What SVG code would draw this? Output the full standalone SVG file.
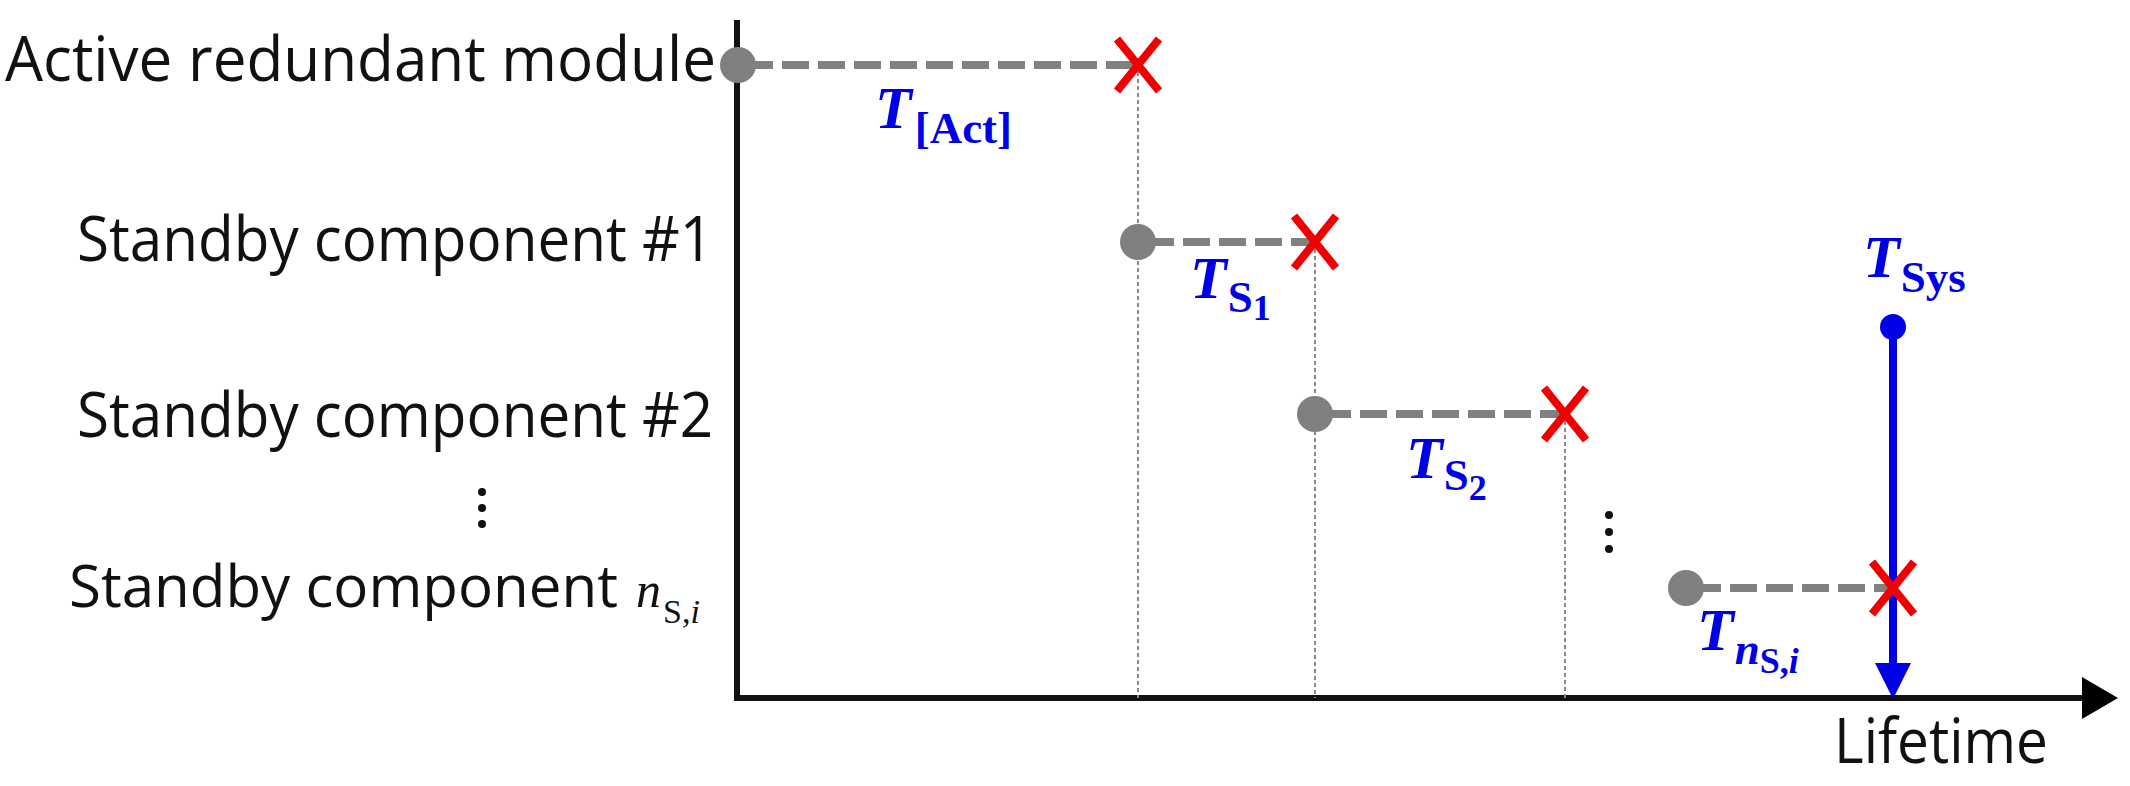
<svg xmlns="http://www.w3.org/2000/svg" width="2130" height="786" viewBox="0 0 2130 786">
<style>
.lbl{font-family:"Open Sans","Noto Sans",sans-serif;font-size:62px;fill:#111}
.m{font-family:"Liberation Serif","DejaVu Serif",serif;fill:#0000E6}
.T{font-size:60px;font-weight:bold;font-style:italic}
.sub{font-size:45px;font-weight:bold}
.sub2{font-size:36px;font-weight:bold}
.dash{stroke:#808080;stroke-width:8;stroke-dasharray:27 9;fill:none}
.guide{stroke:#8a8a8a;stroke-width:2;stroke-dasharray:4 3;fill:none}
.dot{fill:#808080}
.x{stroke:#F00000;stroke-width:8;fill:none;stroke-linecap:butt}
.ell{fill:#111}
.var{font-family:"Liberation Serif","DejaVu Serif",serif;fill:#111}
</style>
<rect width="2130" height="786" fill="#fff"/>

<g id="axes">
  <line x1="737" y1="20" x2="737" y2="698" stroke="#111" stroke-width="6"/>
  <line x1="734" y1="698" x2="2088" y2="698" stroke="#111" stroke-width="6"/>
  <polygon points="2118,698 2082,677 2082,719" fill="#000"/>
  <text class="lbl" x="1834" y="763" textLength="214" lengthAdjust="spacingAndGlyphs">Lifetime</text>
</g>

<g id="connectors">
  <line class="guide" x1="1138" y1="65" x2="1138" y2="698"/>
  <line class="guide" x1="1315" y1="242" x2="1315" y2="698"/>
  <line class="guide" x1="1565" y1="414" x2="1565" y2="698"/>
  <line class="dash" x1="746" y1="65" x2="1138" y2="65"/>
  <line class="dash" x1="1147" y1="242" x2="1315" y2="242"/>
  <line class="dash" x1="1324" y1="414" x2="1565" y2="414"/>
  <line class="dash" x1="1694" y1="588" x2="1893" y2="588"/>
  <line x1="1893" y1="327" x2="1893" y2="668" stroke="#0000E6" stroke-width="8"/>
  <polygon points="1893,699 1875,663 1911,663" fill="#0000E6"/>
</g>

<g id="active">
  <text class="lbl" x="716" y="81" text-anchor="end" textLength="711" lengthAdjust="spacingAndGlyphs">Active redundant module</text>
  <circle class="dot" cx="738" cy="65" r="18"/>
  <path class="x" d="M1117,39 L1159,91 M1159,39 L1117,91"/>
  <text class="m" x="875" y="128"><tspan class="T">T</tspan><tspan class="sub" dx="3" dy="15">[Act]</tspan></text>
</g>

<g id="standby1">
  <text class="lbl" x="713" y="261" text-anchor="end" textLength="636" lengthAdjust="spacingAndGlyphs">Standby component #1</text>
  <circle class="dot" cx="1138" cy="242" r="18"/>
  <path class="x" d="M1294,216 L1336,268 M1336,216 L1294,268"/>
  <text class="m" x="1190" y="298"><tspan class="T">T</tspan><tspan class="sub" dx="1" dy="14">S</tspan><tspan class="sub2" dy="8">1</tspan></text>
</g>

<g id="standby2">
  <text class="lbl" x="713" y="437" text-anchor="end" textLength="636" lengthAdjust="spacingAndGlyphs">Standby component #2</text>
  <circle class="dot" cx="1315" cy="414" r="18"/>
  <path class="x" d="M1544,388 L1586,440 M1586,388 L1544,440"/>
  <text class="m" x="1406" y="478"><tspan class="T">T</tspan><tspan class="sub" dx="1" dy="12">S</tspan><tspan class="sub2" dy="10">2</tspan></text>
</g>

<g id="ellipsis-left">
  <circle class="ell" cx="482" cy="492" r="4"/>
  <circle class="ell" cx="482" cy="508" r="4"/>
  <circle class="ell" cx="482" cy="524" r="4"/>
</g>

<g id="ellipsis-right">
  <circle class="ell" cx="1609" cy="515" r="4"/>
  <circle class="ell" cx="1609" cy="532" r="4"/>
  <circle class="ell" cx="1609" cy="549" r="4"/>
</g>

<g id="standbyN">
  <text class="lbl" x="69" y="607" style="font-size:59px" textLength="549" lengthAdjust="spacingAndGlyphs">Standby component</text>
  <text class="var" x="636" y="607"><tspan font-size="50" font-style="italic">n</tspan><tspan dx="2" dy="16" font-size="34">S,</tspan><tspan font-size="34" font-style="italic">i</tspan></text>
  <circle class="dot" cx="1686" cy="588" r="18"/>
  <path class="x" d="M1872,562 L1914,614 M1914,562 L1872,614"/>
  <text class="m" x="1697" y="650"><tspan class="T">T</tspan><tspan class="sub" font-style="italic" dx="1" dy="14">n</tspan><tspan class="sub2" font-size="32" dy="9">S,</tspan><tspan class="sub2" font-size="32" font-style="italic">i</tspan></text>
</g>

<g id="system">
  <circle cx="1893" cy="327" r="13" fill="#0000E6"/>
  <text class="m" x="1863" y="277"><tspan class="T">T</tspan><tspan class="sub" dx="1" dy="15">Sys</tspan></text>
</g>
</svg>
